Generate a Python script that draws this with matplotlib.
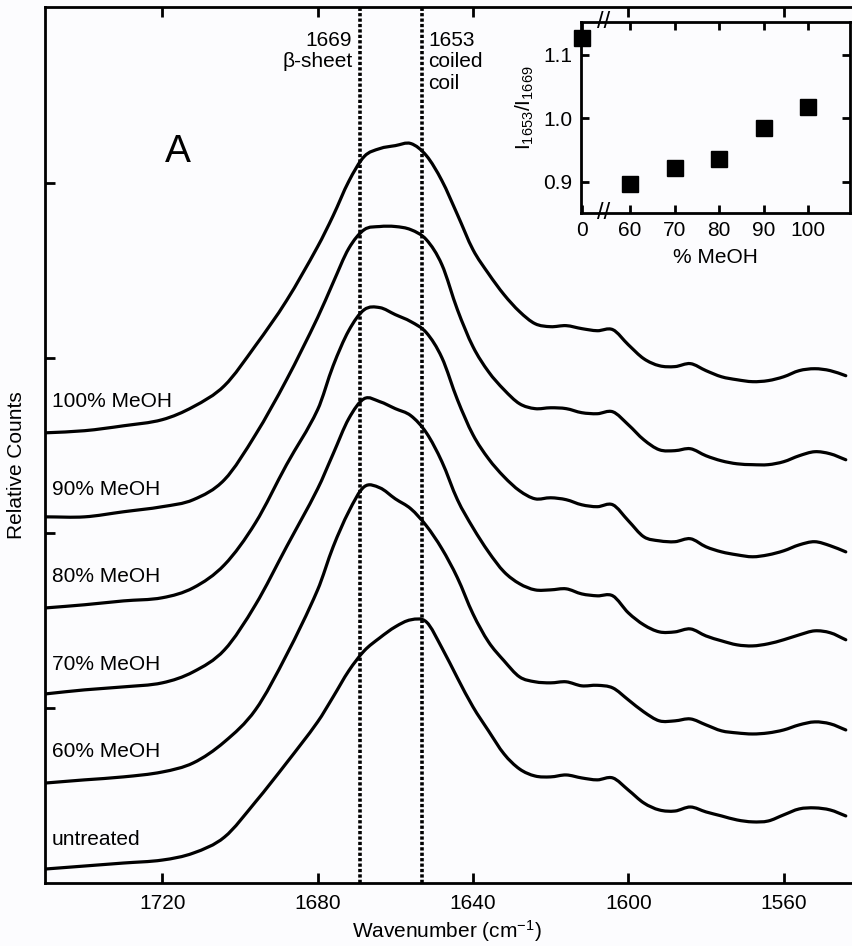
import numpy as np
import matplotlib.pyplot as plt
from matplotlib import transforms
from matplotlib.path import Path
from matplotlib.patches import PathPatch

plt.rcParams['font.family'] = ['Liberation Sans', 'DejaVu Sans']
plt.rcParams['mathtext.fontset'] = 'custom'
plt.rcParams['mathtext.rm'] = 'Liberation Sans'
plt.rcParams['mathtext.it'] = 'Liberation Sans:italic'

# Raman amide I region, spectra stacked bottom to top
wavenumbers = [1750, 1740, 1730, 1720, 1712, 1704, 1696, 1688, 1680,
               1676, 1672, 1668, 1664, 1660, 1656, 1652, 1648, 1644, 1640,
               1636, 1632, 1628, 1624, 1620, 1616, 1612, 1608, 1604, 1600,
               1596, 1592, 1588, 1584, 1580, 1576, 1572, 1568, 1564, 1560,
               1556, 1552, 1548, 1544]

untreated = [0.080, 0.097, 0.114, 0.131, 0.171, 0.262, 0.463, 0.686, 0.920,
             1.063, 1.211, 1.326, 1.400, 1.463, 1.503, 1.491, 1.343, 1.171, 1.006,
             0.869, 0.737, 0.651, 0.611, 0.606, 0.617, 0.600, 0.589, 0.600, 0.531,
             0.457, 0.417, 0.411, 0.434, 0.406, 0.383, 0.360, 0.349, 0.354, 0.389,
             0.423, 0.429, 0.417, 0.383]
meoh_60 = [0.071, 0.089, 0.106, 0.134, 0.186, 0.306, 0.489, 0.803, 1.174,
           1.420, 1.620, 1.763, 1.757, 1.694, 1.637, 1.540, 1.409, 1.243, 1.037,
           0.877, 0.769, 0.677, 0.649, 0.643, 0.649, 0.626, 0.629, 0.614, 0.546,
           0.477, 0.426, 0.426, 0.437, 0.403, 0.369, 0.357, 0.351, 0.357, 0.374,
           0.403, 0.420, 0.409, 0.374]
meoh_70 = [0.080, 0.103, 0.120, 0.143, 0.206, 0.331, 0.589, 0.920, 1.251,
           1.451, 1.651, 1.766, 1.749, 1.709, 1.669, 1.571, 1.406, 1.189, 1.029,
           0.891, 0.777, 0.709, 0.674, 0.674, 0.680, 0.651, 0.640, 0.640, 0.543,
           0.474, 0.434, 0.434, 0.451, 0.411, 0.383, 0.360, 0.354, 0.366, 0.389,
           0.417, 0.440, 0.429, 0.389]
meoh_80 = [0.071, 0.089, 0.111, 0.129, 0.186, 0.317, 0.557, 0.889, 1.203,
           1.454, 1.654, 1.774, 1.786, 1.746, 1.706, 1.643, 1.500, 1.260, 1.060,
           0.923, 0.820, 0.740, 0.694, 0.700, 0.689, 0.660, 0.649, 0.660, 0.569,
           0.477, 0.454, 0.449, 0.466, 0.420, 0.391, 0.374, 0.363, 0.374, 0.397,
           0.431, 0.449, 0.426, 0.391]
meoh_90 = [0.091, 0.091, 0.120, 0.149, 0.189, 0.303, 0.560, 0.874, 1.229,
           1.429, 1.623, 1.731, 1.749, 1.749, 1.731, 1.674, 1.531, 1.274, 1.063,
           0.920, 0.817, 0.737, 0.709, 0.714, 0.709, 0.686, 0.680, 0.691, 0.617,
           0.531, 0.474, 0.469, 0.480, 0.440, 0.411, 0.394, 0.389, 0.389, 0.406,
           0.440, 0.463, 0.451, 0.417]
meoh_100 = [0.071, 0.083, 0.111, 0.146, 0.220, 0.340, 0.569, 0.826, 1.134,
            1.311, 1.506, 1.649, 1.694, 1.711, 1.723, 1.654, 1.511, 1.317, 1.117,
            0.980, 0.860, 0.763, 0.694, 0.677, 0.683, 0.666, 0.654, 0.660, 0.574,
            0.494, 0.454, 0.449, 0.466, 0.426, 0.391, 0.374, 0.363, 0.369, 0.391,
            0.426, 0.437, 0.426, 0.397]

spectra = [untreated, meoh_60, meoh_70, meoh_80, meoh_90, meoh_100]
spectrum_names = ['untreated', '60% MeOH', '70% MeOH', '80% MeOH',
                  '90% MeOH', '100% MeOH']

# band positions
beta_sheet = 1669
coiled_coil = 1653

# inset: intensity ratio vs methanol content
methanol_pct = [0, 60, 70, 80, 90, 100]
band_ratio = [1.127, 0.897, 0.921, 0.936, 0.984, 1.018]

bg = '#fcfcfe'
fs = 15
step = 0.5


def smooth_trace(x, y):
    # cubic Hermite curve through the points (finite-difference slopes,
    # uneven spacing handled), drawn as Bezier segments
    x = np.asarray(x, float)
    y = np.asarray(y, float)
    n = len(x)
    m = np.empty(n)
    m[0] = (y[1] - y[0]) / (x[1] - x[0])
    m[-1] = (y[-1] - y[-2]) / (x[-1] - x[-2])
    m[1:-1] = (y[2:] - y[:-2]) / (x[2:] - x[:-2])
    verts = [(x[0], y[0])]
    codes = [Path.MOVETO]
    for i in range(n - 1):
        h = (x[i + 1] - x[i]) / 3
        verts += [(x[i] + h, y[i] + m[i] * h),
                  (x[i + 1] - h, y[i + 1] - m[i + 1] * h),
                  (x[i + 1], y[i + 1])]
        codes += [Path.CURVE4] * 3
    return Path(verts, codes)


fig = plt.figure(figsize=(8.52, 9.46), dpi=100, facecolor=bg)
ax = fig.add_axes([0.0528, 0.0666, 0.9472, 0.9255], facecolor=bg)

for i, (name, counts) in enumerate(zip(spectrum_names, spectra)):
    path = smooth_trace(wavenumbers, np.array(counts) + step * i)
    ax.add_patch(PathPatch(path, fill=False, ec='k', lw=2.3,
                           capstyle='round', joinstyle='round'))
    ax.text(1748.4, step * i + 0.25, name, fontsize=fs, ha='left', va='center')

dots = (0, (0.9, 0.6))
ax.axvline(beta_sheet, color='k', lw=2.6, ls=dots)
ax.axvline(coiled_coil, color='k', lw=2.6, ls=dots)

trans = transforms.blended_transform_factory(ax.transData, ax.transAxes)
ax.text(beta_sheet, 0.973, '%d\n\u03b2-sheet' % beta_sheet, fontsize=fs,
        ha='right', va='top', linespacing=1.15,
        transform=transforms.offset_copy(trans, fig=fig, x=-8, units='dots'))
ax.text(coiled_coil, 0.973, '%d\ncoiled\ncoil' % coiled_coil, fontsize=fs,
        ha='left', va='top', linespacing=1.15,
        transform=transforms.offset_copy(trans, fig=fig, x=6, units='dots'))

ax.text(1716, 4.177, 'A', fontsize=28, ha='center', va='center')

ax.set_xlim(1750.2, 1542.4)
ax.set_ylim(0, 5)
ax.set_xticks([1720, 1680, 1640, 1600, 1560])
ax.set_yticks([1, 2, 3, 4])
ax.tick_params(axis='x', direction='in', top=True, length=7, width=2,
               labelsize=fs, pad=8)
ax.tick_params(axis='y', direction='in', length=7, width=2, labelleft=False)
ax.spines['right'].set_visible(False)
for side in ['left', 'bottom', 'top']:
    ax.spines[side].set_linewidth(2)

ax.set_xlabel('Wavenumber (cm$^{-1}$)', fontsize=fs, va='center')
ax.xaxis.set_label_coords(0.498, -0.0545)
ax.set_ylabel('Relative Counts', fontsize=fs, va='center')
ax.yaxis.set_label_coords(-0.0347, 0.477)

# inset with broken x axis between 0 and 60
axin = fig.add_axes([0.6816, 0.7752, 0.3161, 0.2019], facecolor=bg)
xpos = [49.1 if p == 0 else p for p in methanol_pct]
axin.plot(xpos, band_ratio, 's', color='k', ms=11, clip_on=False)
axin.set_xlim(48.9, 109.4)
axin.set_ylim(0.851, 1.1526)
axin.set_xticks(xpos)
axin.set_xticklabels([str(p) for p in methanol_pct])
axin.set_yticks([0.9, 1.0, 1.1])
axin.set_yticklabels(['0.9', '1.0', '1.1'])
axin.tick_params(direction='in', top=True, right=True, length=6, width=2,
                 labelsize=fs, pad=6)
for side in axin.spines.values():
    side.set_linewidth(2)

brk = transforms.blended_transform_factory(axin.transData, axin.transAxes)
for yb in (0, 1):
    axin.text(54, yb, '//', fontsize=17, ha='center', va='center',
              transform=brk, clip_on=False)

axin.set_xlabel('% MeOH', fontsize=fs, va='center')
axin.xaxis.set_label_coords(0.4987, -0.237)
axin.set_ylabel('I$_{1653}$/I$_{1669}$', fontsize=fs, va='center')
axin.yaxis.set_label_coords(-0.207, 0.548)

fig.savefig('out.png', dpi=100, facecolor=bg)
